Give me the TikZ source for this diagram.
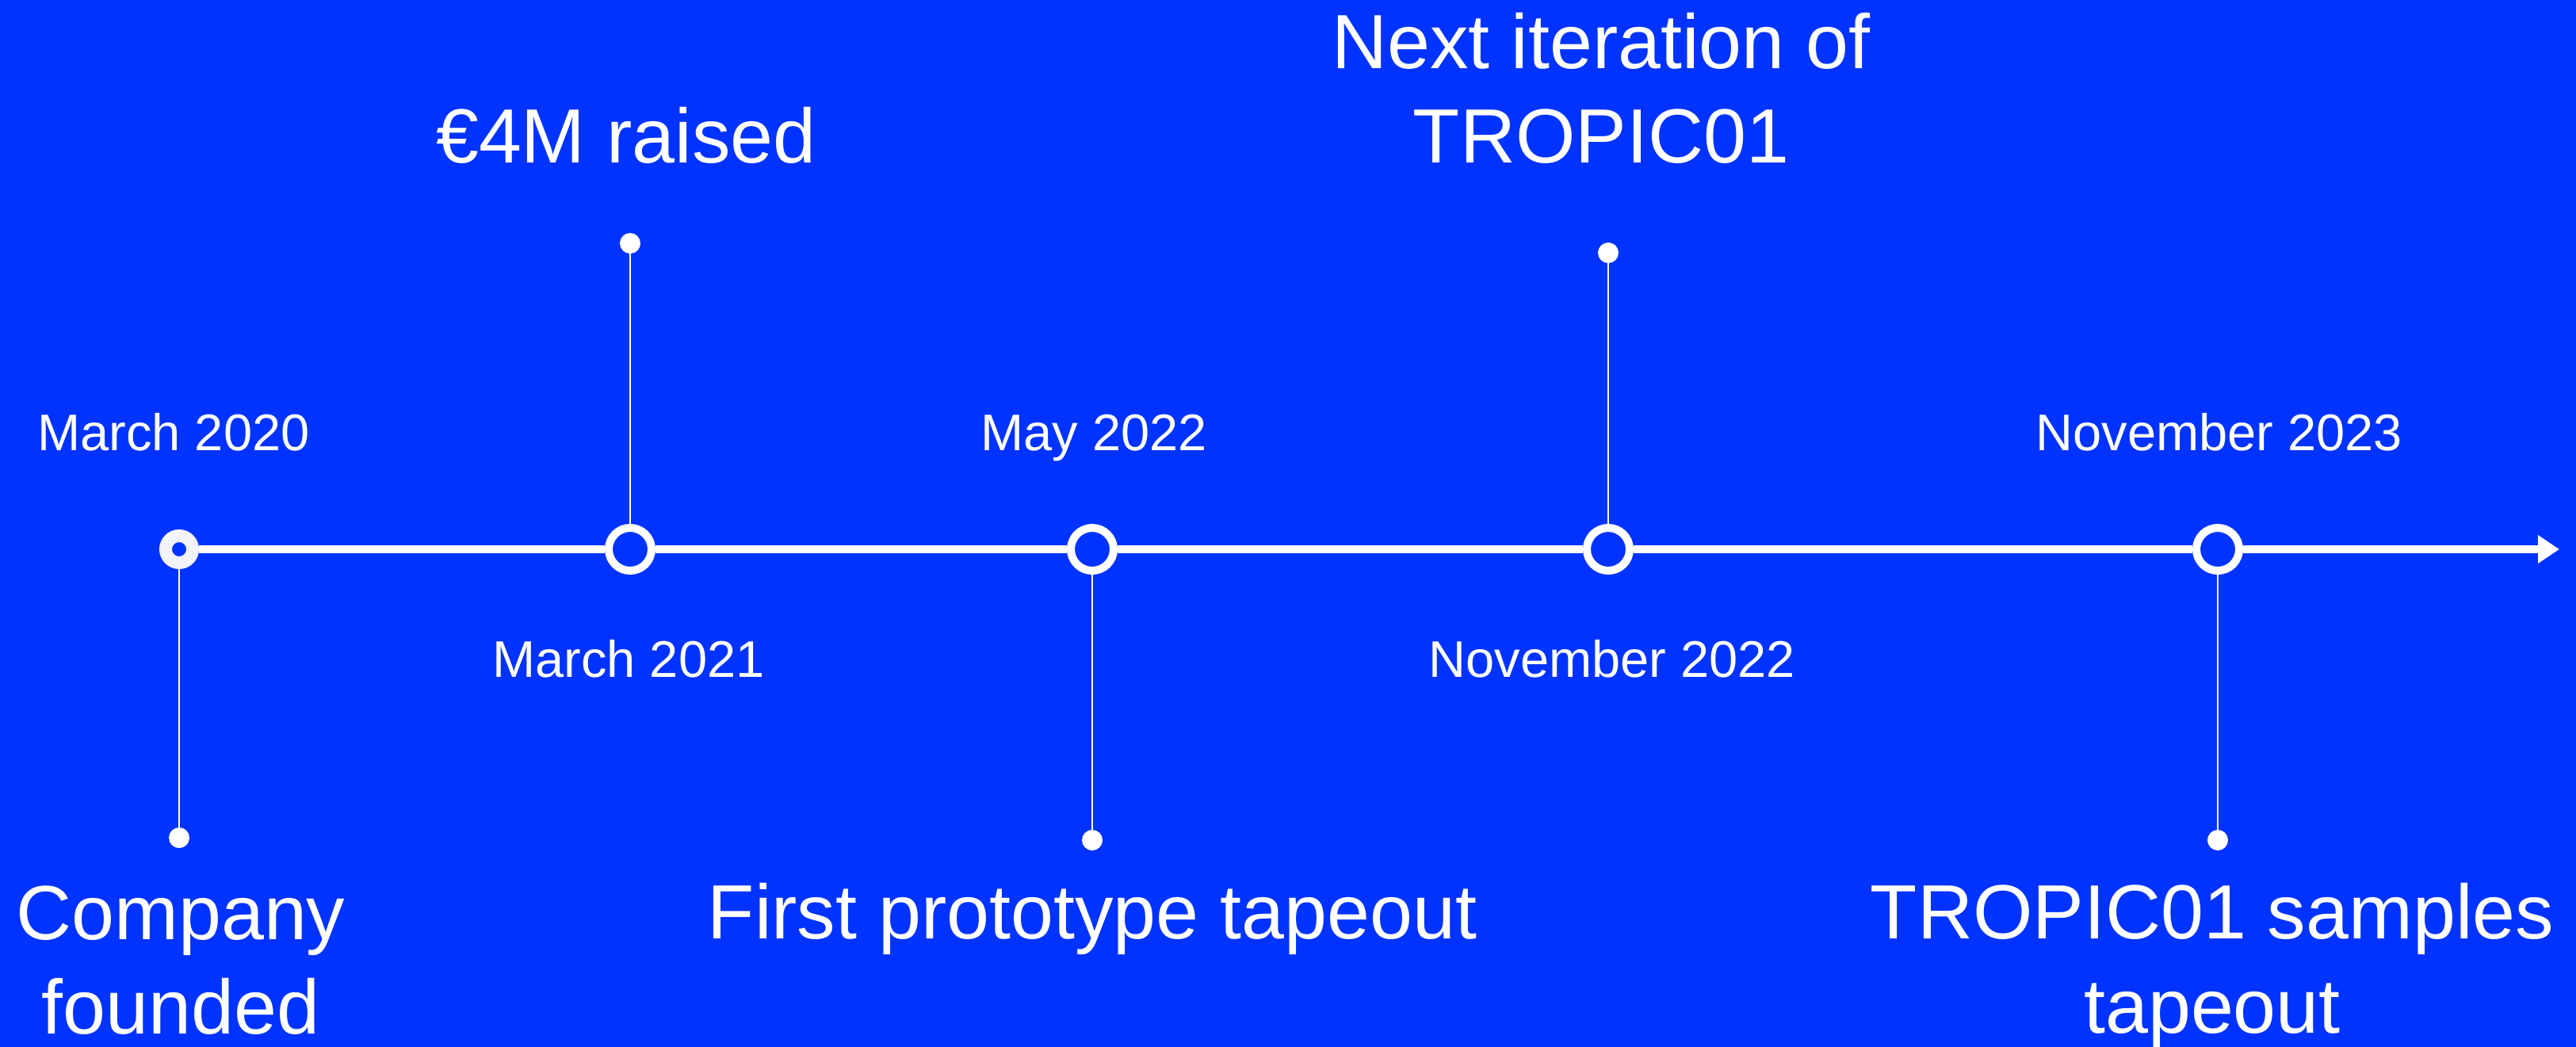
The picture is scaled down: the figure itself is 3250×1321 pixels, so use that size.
\documentclass[tikz,border=0pt]{standalone}
\usepackage{fontspec}
\setmainfont{Liberation Sans}
\usetikzlibrary{arrows.meta}
\definecolor{bgblue}{HTML}{0033FF}
\definecolor{ringwhite}{HTML}{F3F4F9}
\tikzset{
  ring/.style={circle, draw=white, line width=10pt, fill=bgblue, minimum size=54pt, inner sep=0pt},
  startring/.style={circle, draw=ringwhite, line width=16pt, fill=bgblue, minimum size=34pt, inner sep=0pt},
  enddot/.style={circle, fill=white, minimum size=26pt, inner sep=0pt},
  mainline/.style={white, line width=10pt},
  stem/.style={white, line width=2.8pt},
  datelbl/.style={text=white, anchor=base, inner sep=0pt, font=\fontsize{65}{78}\selectfont},
  eventlbl/.style={text=white, anchor=base, inner sep=0pt, align=center, font=\fontsize{97}{119}\selectfont}
}
\begin{document}
\begin{tikzpicture}[x=1pt, y=-1pt]
\fill[bgblue] (0,0) rectangle (3250,1321);
\useasboundingbox (0,0) rectangle (3250,1321);

% dots
\node[enddot] (d0) at (226,1057) {};
\node[enddot] (d1) at (795,307) {};
\node[enddot] (d2) at (1378,1060) {};
\node[enddot] (d3) at (2029,319) {};
\node[enddot] (d4) at (2798,1060) {};

% stems
\draw[stem] (d0.center) -- (226,693);
\draw[stem] (d1.center) -- (795,693);
\draw[stem] (d2.center) -- (1378,693);
\draw[stem] (d3.center) -- (2029,693);
\draw[stem] (d4.center) -- (2798,693);

% rings
\node[startring] (c0) at (226,693) {};
\node[ring] (c1) at (795,693) {};
\node[ring] (c2) at (1378,693) {};
\node[ring] (c3) at (2029,693) {};
\node[ring] (c4) at (2798,693) {};
\coordinate (tip) at (3229,693);

% main line
\draw[mainline] (c0) -- (c1);
\draw[mainline] (c1) -- (c2);
\draw[mainline] (c2) -- (c3);
\draw[mainline] (c3) -- (c4);
\draw[mainline, -{Triangle[length=27pt, width=34pt]}] (c4) -- (tip);

% date labels
\node[datelbl] (l0) at (219,568) {March 2020};
\node[datelbl] (l1) at (793,854) {March 2021};
\node[datelbl] (l2) at (1380,568) {May 2022};
\node[datelbl] (l3) at (2034,854) {November 2022};
\node[datelbl] (l4) at (2800,568) {November 2023};

% event labels (base = baseline of last line)
\node[eventlbl] (e0) at (228,1304) {Company\\founded};
\node[eventlbl] (e1) at (790,206) {€4M raised};
\node[eventlbl] (e2) at (1378,1184) {First prototype tapeout};
\node[eventlbl] (e3) at (2020,206) {Next iteration of\\TROPIC01};
\node[eventlbl] (e4) at (2791,1303) {TROPIC01 samples\\tapeout};
\end{tikzpicture}
\end{document}
